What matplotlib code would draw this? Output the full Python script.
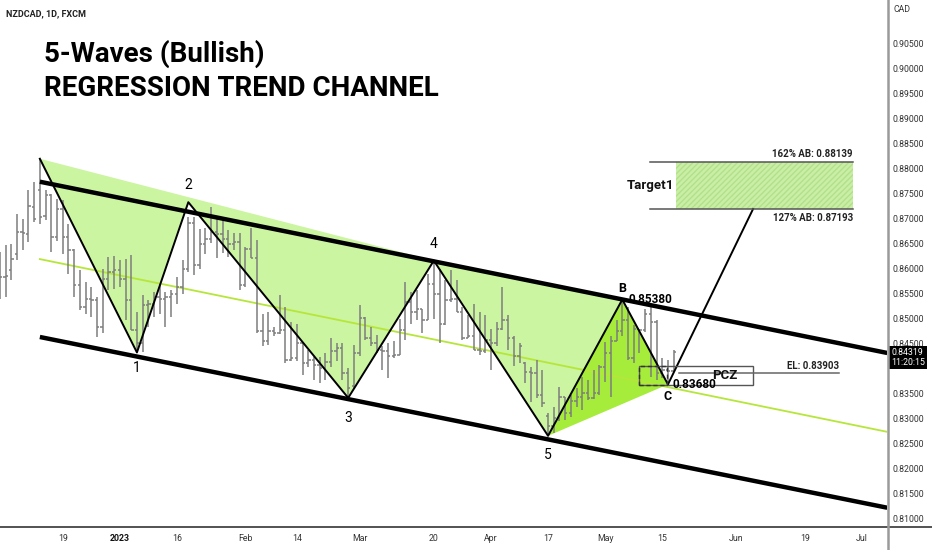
import matplotlib
matplotlib.use('Agg')
import matplotlib.pyplot as plt
import numpy as np
from matplotlib.collections import LineCollection
from matplotlib.patches import Polygon, Rectangle
from matplotlib.lines import Line2D

plt.rcParams['font.family'] = ['Roboto', 'DejaVu Sans']

# ---------------- data ----------------
bar_start = -11  # trading-day index of first bar (0 = Dec 19, 2022)
opens = [.8617, .8583, .8597, .8630, .8673, .8670, .8724, .8757, .8705, .8747, .8663,
         .8720, .8663, .8637, .8567, .8523, .8540, .8538, .8483, .8580, .8593, .8597,
         .8580, .8537, .8476, .8450, .8527, .8530, .8543, .8540, .8543, .8550, .8563,
         .8600, .8691, .8607, .8650, .8660, .8674, .8670, .8660, .8650, .8654, .8567,
         .8640, .8621, .8474, .8454, .8474, .8470, .8477, .8417, .8420, .8450, .8410,
         .8417, .8407, .8400, .8413, .8434, .8440, .8390, .8365, .8430, .8502, .8460,
         .8450, .8437, .8434, .8424, .8427, .8477, .8534, .8514, .8520, .8497, .8570,
         .8550, .8490, .8537, .8540, .8514, .8460, .8464, .8437, .8434, .8457, .8450,
         .8480, .8497, .8460, .8424, .8410, .8393, .8390, .8347, .8305, .8285, .8300,
         .8343, .8310, .8335, .8343, .8350, .8340, .8350, .8403, .8430, .8454, .8474,
         .8497, .8420, .8480, .8477, .8510, .8494, .8390, .8397, .8395]
highs = [.8633, .8647, .8649, .8710, .8700, .8757, .8774, .8820, .8757, .8750, .8740,
         .8737, .8690, .8640, .8597, .8573, .8563, .8543, .8600, .8623, .8625, .8617,
         .8620, .8627, .8513, .8547, .8537, .8553, .8570, .8553, .8557, .8583, .8617,
         .8704, .8704, .8680, .8682, .8724, .8701, .8697, .8677, .8671, .8671, .8644,
         .8681, .8657, .8510, .8514, .8484, .8547, .8524, .8494, .8490, .8452, .8437,
         .8423, .8423, .8430, .8460, .8450, .8450, .8400, .8447, .8527, .8504, .8484,
         .8467, .8444, .8450, .8454, .8500, .8574, .8554, .8557, .8520, .8590, .8616,
         .8600, .8577, .8597, .8577, .8524, .8507, .8530, .8514, .8507, .8480, .8494,
         .8564, .8507, .8464, .8450, .8412, .8403, .8417, .8397, .8310, .8323, .8363,
         .8343, .8347, .8360, .8383, .8377, .8397, .8407, .8453, .8464, .8497, .8538,
         .8523, .8487, .8480, .8520, .8523, .8497, .8420, .8417, .8437]
lows = [.8540, .8543, .8577, .8617, .8637, .8653, .8693, .8690, .8697, .8633, .8655,
        .8630, .8590, .8543, .8517, .8510, .8503, .8463, .8470, .8557, .8560, .8563,
        .8497, .8476, .8432, .8433, .8483, .8503, .8510, .8483, .8503, .8530, .8550,
        .8594, .8587, .8600, .8630, .8651, .8621, .8631, .8624, .8637, .8557, .8564,
        .8621, .8470, .8444, .8447, .8464, .8468, .8410, .8414, .8415, .8387, .8403,
        .8377, .8370, .8377, .8403, .8414, .8377, .8341, .8360, .8424, .8457, .8444,
        .8430, .8397, .8380, .8420, .8427, .8457, .8490, .8497, .8470, .8497, .8500,
        .8450, .8487, .8534, .8514, .8457, .8460, .8437, .8427, .8430, .8397, .8445,
        .8477, .8437, .8404, .8410, .8370, .8333, .8340, .8323, .8265, .8270, .8295,
        .8297, .8303, .8323, .8317, .8337, .8338, .8347, .8373, .8343, .8454, .8464,
        .8417, .8410, .8430, .8473, .8383, .8377, .8380, .8368, .8392]
closes = [.8583, .8585, .8620, .8673, .8672, .8725, .8700, .8703, .8747, .8663, .8720,
          .8663, .8637, .8567, .8523, .8540, .8538, .8483, .8580, .8593, .8597, .8580,
          .8537, .8476, .8450, .8527, .8530, .8543, .8540, .8543, .8550, .8563, .8600,
          .8691, .8607, .8650, .8660, .8674, .8670, .8660, .8650, .8654, .8567, .8640,
          .8621, .8474, .8454, .8474, .8470, .8477, .8417, .8420, .8450, .8410, .8417,
          .8407, .8400, .8413, .8434, .8440, .8390, .8360, .8430, .8502, .8460, .8450,
          .8437, .8434, .8424, .8427, .8477, .8534, .8514, .8520, .8497, .8570, .8550,
          .8490, .8537, .8540, .8514, .8460, .8464, .8437, .8434, .8457, .8450, .8480,
          .8497, .8460, .8424, .8444, .8393, .8390, .8347, .8330, .8285, .8300, .8343,
          .8310, .8335, .8343, .8350, .8340, .8350, .8403, .8430, .8454, .8474, .8497,
          .8420, .8480, .8477, .8510, .8494, .8390, .8397, .8395, .8432]

wave_labels = ['', '1', '2', '3', '4', '5', 'B', 'C']
wave_idx = [-4, 13, 22, 50, 65, 85, 98, 106]
wave_price = [0.8820, 0.8432, 0.8733, 0.8341, 0.8616, 0.8265, 0.8538, 0.8368]

channel_idx = [-4, 144.4]
channel_upper = [0.8774, 0.8431]
channel_middle = [0.8619, 0.8273]
channel_lower = [0.8463, 0.8121]

target_levels = [0.87193, 0.88139]
target_texts = ['127% AB: 0.87193', '162% AB: 0.88139']
el_price = 0.83903
pcz_prices = [0.8367, 0.8405]
last_price = 0.84319
last_time = '11:20:15'

tick_idx = [0, 10, 20, 32, 41, 52, 65, 75, 85, 95, 105, 118, 130, 140]
tick_labels = ['19', '2023', '16', 'Feb', '14', 'Mar', '20', 'Apr', '17', 'May',
               '15', 'Jun', '19', 'Jul']
price_ticks = [0.810, 0.815, 0.820, 0.825, 0.830, 0.835, 0.840, 0.845, 0.850, 0.855,
               0.860, 0.865, 0.870, 0.875, 0.880, 0.885, 0.890, 0.895, 0.900, 0.905]

# ---------------- figure ----------------
W, H = 932, 550
fig = plt.figure(figsize=(W / 100, H / 100), dpi=100)
ax = fig.add_axes([0, 23 / H, 887 / W, 527 / H])
ax.set_xlim(-10.98, 144.36)
ax.set_ylim(0.80824, 0.9138)

light = '#cbf5a0'
bright = '#a6ec3a'
barc = '#7d7d7d'

# pattern fills
pts = list(zip(wave_idx, wave_price))
ax.add_patch(Polygon(pts[0:5], closed=True, facecolor=light, edgecolor='none', zorder=1))
ax.add_patch(Polygon(pts[4:7], closed=True, facecolor=light, edgecolor='none', zorder=1))
ax.add_patch(Polygon(pts[5:8], closed=True, facecolor=bright, edgecolor='none', zorder=1.1))

# regression middle line
ax.plot(channel_idx, channel_middle, color='#b6e63a', lw=1.3, zorder=1.5)

# OHLC bars
idx = np.arange(bar_start, bar_start + len(opens))
segs = []
for i, o, h, l, c in zip(idx, opens, highs, lows, closes):
    segs.append([(i, l), (i, h)])
    segs.append([(i - 0.4, o), (i, o)])
    segs.append([(i, c), (i + 0.4, c)])
ax.add_collection(LineCollection(segs, colors=barc, linewidths=1.1, zorder=2))

# channel lines
ax.plot(channel_idx, channel_upper, color='black', lw=3.2, zorder=3, solid_capstyle='butt')
ax.plot(channel_idx, channel_lower, color='black', lw=3.2, zorder=3, solid_capstyle='butt')

# wave lines
ax.plot(wave_idx, wave_price, color='black', lw=1.4, zorder=4)
# projection line C -> target
ax.plot([wave_idx[-1], 120.9], [wave_price[-1], target_levels[0]], color='black', lw=1.4, zorder=4)

# wave labels
offs = {'1': -16, '2': 17, '3': -20, '4': 17, '5': -19, 'B': 11, 'C': -12}
for lab, xi, yp in zip(wave_labels, wave_idx, wave_price):
    if not lab:
        continue
    bold = lab in ('B', 'C')
    ax.annotate(lab, (xi, yp), xytext=(0, offs[lab] * 0.72), textcoords='offset points',
                ha='center', va='center', fontsize=10 if not bold else 9,
                fontweight='bold' if bold else 'normal', color='black', zorder=6)

ax.annotate(f'{wave_price[6]:.5f}', (wave_idx[6], wave_price[6]), xytext=(4.5, 0),
            textcoords='offset points', ha='left', va='center', fontsize=8.5,
            fontweight='bold', zorder=6)
ax.annotate(f'{wave_price[7]:.5f}', (wave_idx[7], wave_price[7]), xytext=(3.5, 0),
            textcoords='offset points', ha='left', va='center', fontsize=8.5,
            fontweight='bold', zorder=6)

# target zone
ax.add_patch(Rectangle((107.4, target_levels[0]), 31.0, target_levels[1] - target_levels[0],
                       facecolor='#c9efa6', edgecolor='#b3e08a', hatch='//////',
                       linewidth=0, zorder=1))
for lv in target_levels:
    ax.plot([102.9, 138.4], [lv, lv], color='#555555', lw=1.1, zorder=4)
ax.annotate(target_texts[1], (138.4, target_levels[1]), xytext=(0, 5.5),
            textcoords='offset points', ha='right', va='center', fontsize=7,
            fontweight='bold', color='#222222')
ax.annotate(target_texts[0], (138.4, target_levels[0]), xytext=(0, -6.5),
            textcoords='offset points', ha='right', va='center', fontsize=7,
            fontweight='bold', color='#222222')
ax.text(107.0, (target_levels[0] + target_levels[1]) / 2, 'Target1', ha='right',
        va='center', fontsize=9.5, fontweight='bold', color='#111111')

# PCZ box and entry level
ax.add_patch(Rectangle((100.9, pcz_prices[0]), 20.0, pcz_prices[1] - pcz_prices[0],
                       facecolor='none', edgecolor='#555555', lw=1.0, zorder=4))
ax.add_patch(Rectangle((100.9, pcz_prices[0]), 5.0, pcz_prices[1] - pcz_prices[0],
                       facecolor='none', edgecolor='#333333', lw=1.0, ls=(0, (3, 2)), zorder=4))
ax.plot([107.9, 136.0], [el_price, el_price], color='#666666', lw=1.1, zorder=4)
ax.text(116.0, el_price - 0.00045, 'PCZ', ha='center', va='center', fontsize=9.5,
        fontweight='bold', color='#111111', zorder=6)
ax.annotate(f'EL: {el_price:.5f}', (136.0, el_price), xytext=(0, 5.5),
            textcoords='offset points', ha='right', va='center', fontsize=7,
            fontweight='bold', color='#222222')

# axes styling
for s in ax.spines.values():
    s.set_visible(False)
ax.yaxis.tick_right()
ax.set_yticks(price_ticks)
# the 0.84000 label sits behind the last-price tag
ax.set_yticklabels(['' if abs(p - 0.840) < 1e-9 else f'{p:.5f}' for p in price_ticks])
ax.tick_params(axis='y', length=0, pad=4, labelsize=6.3, labelcolor='#333333')
ax.set_xticks(tick_idx)
ax.set_xticklabels(tick_labels)
ax.tick_params(axis='x', length=0, pad=5, labelsize=6.3, labelcolor='#333333')
for t in ax.get_xticklabels():
    if t.get_text() == '2023':
        t.set_fontweight('bold')
        t.set_color('#111111')

# last price label
ax.annotate(f'{last_price:.5f}\n{last_time}', (1.0, last_price),
            xycoords=ax.get_yaxis_transform(), xytext=(3, -3.6),
            textcoords='offset points', ha='left', va='center', fontsize=6.3,
            color='white', linespacing=1.1, annotation_clip=False, zorder=10,
            bbox=dict(boxstyle='square,pad=0.25', facecolor='black', edgecolor='none'))

# frame lines spanning the figure
fig.add_artist(Line2D([0, 1], [23 / H, 23 / H], color='#444444', lw=1.3))
fig.add_artist(Line2D([887.5 / W, 887.5 / W], [0, 1], color='#9a9a9a', lw=1.8))

# header texts
fig.text(6 / W, 1 - 14 / H, 'NZDCAD, 1D, FXCM', fontsize=6.5, fontweight='bold',
         color='#222222', va='center', ha='left')
fig.text(893 / W, 1 - 10 / H, 'CAD', fontsize=6.3, color='#333333', va='center', ha='left')
fig.text(44 / W, 1 - 54 / H, '5-Waves (Bullish)', fontsize=20, fontweight='bold',
         color='black', va='center', ha='left')
fig.text(44 / W, 1 - 88 / H, 'REGRESSION TREND CHANNEL', fontsize=20, fontweight='bold',
         color='black', va='center', ha='left')

fig.savefig('out.png', dpi=100)
